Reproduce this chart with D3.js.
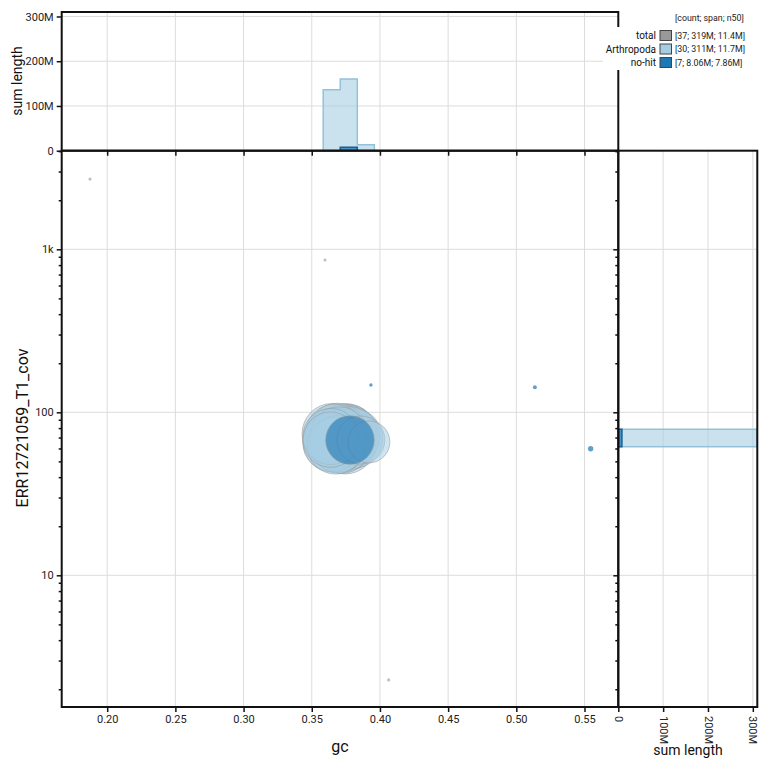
<!DOCTYPE html>
<html>
<head>
<meta charset="utf-8">
<script src="https://cdn.jsdelivr.net/npm/d3@7"></script>
<style>
    body { margin: 0; background: #fff; font-family: Roboto, sans-serif; }
</style>
</head>
<body>
<div id="blob-plot"></div>
<script>

// categories & colours
const categories     = ["Arthropoda", "no-hit"];
const categoryColors = ["#a6cee3", "#1f78b4"];

// sequences (gc, coverage, length) per category
const arthropodaGc  = [0.3650, 0.3675, 0.3665, 0.3638, 0.3690, 0.3660, 0.3700, 0.3640, 0.3680, 0.3648, 0.3695, 0.3670,
                       0.3720, 0.3735, 0.3750, 0.3715, 0.3765, 0.3730, 0.3745, 0.3780, 0.3725, 0.3760, 0.3740, 0.3800, 0.3755,
                       0.3919, 0.3860,
                       0.1874, 0.3597, 0.4064];
const arthropodaCov = [74, 62.5, 70, 68, 74.5, 66, 72, 71, 69, 65, 64, 74,
                       70, 66, 73, 64, 68, 73.5, 64.5, 71, 69, 73, 67, 69, 71.5,
                       65.8, 67.6,
                       2698, 860, 2.28];
const arthropodaLen = [12.1e6, 10.8e6, 11.6e6, 10.2e6, 11.9e6, 12.4e6, 11.0e6, 10.5e6, 11.8e6, 11.3e6, 10.9e6, 11.5e6,
                       12.6e6, 12.0e6, 12.8e6, 11.7e6, 12.3e6, 12.1e6, 12.5e6, 11.9e6, 12.9e6, 12.2e6, 12.4e6, 12.0e6, 12.6e6,
                       5.87e6, 7.67e6,
                       30e3, 30e3, 30e3];

const noHitGc  = [0.3780, 0.5545, 0.5136, 0.3934, 0.3760, 0.3795, 0.3775];
const noHitCov = [67.6, 59.8, 142.3, 147, 69, 66, 70.5];
const noHitLen = [7.86e6, 97e3, 53e3, 38e3, 4e3, 4e3, 4e3];

// histograms (sum length per bin)
const gcBinEdges        = [0.3584, 0.3709, 0.3834, 0.3959];
const gcHistArthropoda  = [136e6, 160e6, 13.5e6];
const gcHistNoHit       = [0, 7.86e6, 0];
const covBinEdges       = [61.5, 78.7];
const covHistArthropoda = [309e6];
const covHistNoHit      = [8.06e6];

// ticks
const gcTicks       = [0.20, 0.25, 0.30, 0.35, 0.40, 0.45, 0.50, 0.55];
const covTicks      = [10, 100, 1000];
const covTickLabels = ["10", "100", "1k"];
const lenTicks      = [0, 100e6, 200e6, 300e6];
const lenTickLabels = ["0", "100M", "200M", "300M"];

// legend
const legendLabels = ["total", "Arthropoda", "no-hit"];
const legendColors = ["#999999", "#a6cee3", "#1f78b4"];
const legendCounts = [37, 30, 7];
const legendSpans  = ["319M", "311M", "8.06M"];
const legendN50s   = ["11.4M", "11.7M", "7.86M"];


class BlobPlot {
    constructor(_parentElement) {
        this.parentElement = _parentElement;

        this.initVis();
    }

    initVis() {
        let vis = this;

        vis.main = { left: 61.7, right: 618.3, top: 150.7, bottom: 707 };
        vis.topPanelTop = 12;
        vis.sidePanelRight = 757.3;

        vis.svg = d3.select("#" + vis.parentElement).append("svg")
            .attr("width", 770)
            .attr("height", 770);

        vis.x = d3.scaleLinear().domain([0.16664, 0.57478]).range([vis.main.left, vis.main.right]);
        vis.y = d3.scaleLog().domain([1.556, 4027]).range([vis.main.bottom, vis.main.top]);
        vis.histY = d3.scaleLinear().domain([0, 310e6]).range([vis.main.top, vis.topPanelTop]);
        vis.histX = d3.scaleLinear().domain([0, 310e6]).range([vis.main.right, vis.sidePanelRight]);
        vis.r = d3.scaleSqrt().domain([0, 1e6]).range([0, 8.667]);
        vis.color = d3.scaleOrdinal().domain(categories).range(categoryColors);

        // clip paths
        let defs = vis.svg.append("defs");
        defs.append("clipPath").attr("id", "clip-main").append("rect")
            .attr("x", vis.main.left).attr("y", vis.main.top)
            .attr("width", vis.main.right - vis.main.left).attr("height", vis.main.bottom - vis.main.top);
        defs.append("clipPath").attr("id", "clip-top").append("rect")
            .attr("x", vis.main.left).attr("y", vis.topPanelTop)
            .attr("width", vis.main.right - vis.main.left).attr("height", vis.main.top - vis.topPanelTop);
        defs.append("clipPath").attr("id", "clip-side").append("rect")
            .attr("x", vis.main.right).attr("y", vis.main.top)
            .attr("width", vis.sidePanelRight - vis.main.right).attr("height", vis.main.bottom - vis.main.top);

        vis.gridGroup = vis.svg.append("g").attr("class", "grid");
        vis.topGroup  = vis.svg.append("g").attr("clip-path", "url(#clip-top)");
        vis.sideGroup = vis.svg.append("g").attr("clip-path", "url(#clip-side)");
        vis.mainGroup = vis.svg.append("g").attr("clip-path", "url(#clip-main)");
        vis.frameGroup = vis.svg.append("g");
        vis.axisGroup = vis.svg.append("g");
        vis.labelGroup = vis.svg.append("g");
        vis.legendGroup = vis.svg.append("g");

        vis.wrangleData();
    }

    wrangleData() {
        let vis = this;

        let arth = arthropodaGc.map((g, i) => ({ gc: g, cov: arthropodaCov[i], len: arthropodaLen[i], cat: "Arthropoda" }));
        let noHit = noHitGc.map((g, i) => ({ gc: g, cov: noHitCov[i], len: noHitLen[i], cat: "no-hit" }));

        // biggest first inside each category, no-hit drawn over Arthropoda
        // (the tiny no-hit fragments inside the cluster end up underneath)
        arth.sort((a, b) => b.len - a.len);
        noHit.sort((a, b) => b.len - a.len);
        let tiny = noHit.filter(d => d.len < 20e3);
        vis.points = tiny.concat(arth, noHit.filter(d => d.len >= 20e3));

        vis.gcHists = [
            { cat: "Arthropoda", values: gcHistArthropoda },
            { cat: "no-hit", values: gcHistNoHit }
        ];
        vis.covHists = [
            { cat: "Arthropoda", values: covHistArthropoda },
            { cat: "no-hit", values: covHistNoHit }
        ];

        vis.updateVis();
    }

    updateVis() {
        let vis = this;
        const gridColor = "#dcdcdc";

        // grid lines
        vis.gridGroup.selectAll(".grid-x")
            .data(gcTicks)
            .join("line")
            .attr("class", "grid-x")
            .attr("x1", d => vis.x(d)).attr("x2", d => vis.x(d))
            .attr("y1", vis.topPanelTop).attr("y2", vis.main.bottom)
            .attr("stroke", gridColor).attr("stroke-width", 1);

        vis.gridGroup.selectAll(".grid-y")
            .data(covTicks)
            .join("line")
            .attr("class", "grid-y")
            .attr("x1", vis.main.left).attr("x2", vis.sidePanelRight)
            .attr("y1", d => vis.y(d)).attr("y2", d => vis.y(d))
            .attr("stroke", gridColor).attr("stroke-width", 1);

        vis.gridGroup.selectAll(".grid-hist-y")
            .data(lenTicks.slice(1))
            .join("line")
            .attr("class", "grid-hist-y")
            .attr("x1", vis.main.left).attr("x2", vis.main.right)
            .attr("y1", d => vis.histY(d)).attr("y2", d => vis.histY(d))
            .attr("stroke", gridColor).attr("stroke-width", 1);

        vis.gridGroup.selectAll(".grid-hist-x")
            .data(lenTicks.slice(1))
            .join("line")
            .attr("class", "grid-hist-x")
            .attr("x1", d => vis.histX(d)).attr("x2", d => vis.histX(d))
            .attr("y1", vis.main.top).attr("y2", vis.main.bottom)
            .attr("stroke", gridColor).attr("stroke-width", 1);

        // top histogram (gc)
        let area = d3.area()
            .x(d => vis.x(d.edge))
            .y0(vis.histY(0))
            .y1(d => vis.histY(d.value))
            .curve(d3.curveStepAfter);

        vis.topGroup.selectAll(".gc-hist")
            .data(vis.gcHists)
            .join("path")
            .attr("class", "gc-hist")
            .attr("d", h => {
                let pts = h.values.map((v, i) => ({ edge: gcBinEdges[i], value: v }));
                pts.push({ edge: gcBinEdges[gcBinEdges.length - 1], value: h.values[h.values.length - 1] });
                return area(pts);
            })
            .attr("fill", h => vis.color(h.cat))
            .attr("fill-opacity", h => h.cat === "no-hit" ? 0.75 : 0.6)
            .attr("stroke", h => h.cat === "no-hit" ? "#1a5f91" : "#93c1da")
            .attr("stroke-width", 1.5);

        // side histogram (coverage)
        vis.sideGroup.selectAll(".cov-hist")
            .data(vis.covHists)
            .join("rect")
            .attr("class", "cov-hist")
            .attr("x", vis.histX(0))
            .attr("y", vis.y(covBinEdges[1]))
            .attr("width", h => vis.histX(h.values[0]) - vis.histX(0))
            .attr("height", vis.y(covBinEdges[0]) - vis.y(covBinEdges[1]))
            .attr("fill", h => vis.color(h.cat))
            .attr("fill-opacity", h => h.cat === "no-hit" ? 0.75 : 0.6)
            .attr("stroke", h => h.cat === "no-hit" ? "#1a5f91" : "#93c1da")
            .attr("stroke-width", 1.5);

        // blobs
        vis.mainGroup.selectAll(".blob")
            .data(vis.points)
            .join("circle")
            .attr("class", "blob")
            .attr("cx", d => vis.x(d.gc))
            .attr("cy", d => vis.y(d.cov))
            .attr("r", d => Math.max(1.6, vis.r(d.len)))
            .attr("fill", d => d.len < 1e6 && d.cat === "Arthropoda" ? "#8fa9bd" : vis.color(d.cat))
            .attr("fill-opacity", d => d.len < 1e6 ? 0.7 : (d.cat === "no-hit" ? 0.62 : 0.55))
            .attr("stroke", "#999")
            .attr("stroke-opacity", d => d.len < 1e6 ? 0 : 0.55)
            .attr("stroke-width", 1);

        // panel frames
        let frames = [
            { x: vis.main.left, y: vis.main.top, w: vis.main.right - vis.main.left, h: vis.main.bottom - vis.main.top },
            { x: vis.main.left, y: vis.topPanelTop, w: vis.main.right - vis.main.left, h: vis.main.top - vis.topPanelTop },
            { x: vis.main.right, y: vis.main.top, w: vis.sidePanelRight - vis.main.right, h: vis.main.bottom - vis.main.top }
        ];
        vis.frameGroup.selectAll("rect")
            .data(frames)
            .join("rect")
            .attr("x", d => d.x).attr("y", d => d.y)
            .attr("width", d => d.w).attr("height", d => d.h)
            .attr("fill", "none")
            .attr("stroke", "#111")
            .attr("stroke-width", 2);

        // axes
        let covAllTicks = vis.y.ticks();
        let isMajor = d => Math.abs(Math.log10(d) - Math.round(Math.log10(d))) < 1e-9;
        let covLabel = d => {
            let i = covTicks.indexOf(d);
            return i >= 0 ? covTickLabels[i] : "";
        };
        let lenLabel = d => lenTickLabels[lenTicks.indexOf(d)];

        const styleAxis = (g) => {
            g.select(".domain").remove();
            g.attr("font-family", "Roboto, sans-serif").attr("font-size", 11);
            g.selectAll(".tick line").attr("stroke", "#111").attr("stroke-width", 1.5);
            g.selectAll(".tick text").attr("fill", "#222");
        };

        vis.axisGroup.append("g")
            .attr("transform", `translate(0, ${vis.main.bottom})`)
            .call(d3.axisBottom(vis.x).tickValues(gcTicks).tickFormat(d3.format(".2f")).tickSize(5).tickSizeOuter(0))
            .call(styleAxis);

        vis.axisGroup.append("g")
            .attr("transform", `translate(0, ${vis.main.top})`)
            .call(d3.axisBottom(vis.x).tickValues(gcTicks).tickFormat("").tickSize(5).tickSizeOuter(0))
            .call(styleAxis);

        vis.axisGroup.append("g")
            .attr("transform", `translate(${vis.main.left}, 0)`)
            .call(d3.axisLeft(vis.y).tickValues(covAllTicks).tickFormat(covLabel).tickSize(5).tickSizeOuter(0))
            .call(styleAxis)
            .selectAll(".tick line")
            .attr("x2", d => isMajor(d) ? -5 : -3);

        vis.axisGroup.append("g")
            .attr("transform", `translate(${vis.main.right}, 0)`)
            .call(d3.axisLeft(vis.y).tickValues(covAllTicks).tickFormat("").tickSize(5).tickSizeOuter(0))
            .call(styleAxis)
            .selectAll(".tick line")
            .attr("x2", d => isMajor(d) ? -5 : -3);

        vis.axisGroup.append("g")
            .attr("transform", `translate(${vis.main.left}, 0)`)
            .call(d3.axisLeft(vis.histY).tickValues(lenTicks).tickFormat(lenLabel).tickSize(5).tickSizeOuter(0))
            .call(styleAxis);

        vis.axisGroup.append("g")
            .attr("transform", `translate(0, ${vis.main.bottom})`)
            .call(d3.axisBottom(vis.histX).tickValues(lenTicks).tickFormat(lenLabel).tickSize(5).tickSizeOuter(0))
            .call(styleAxis)
            .selectAll(".tick text")
            .attr("transform", "rotate(90)")
            .attr("x", 9)
            .attr("y", 0)
            .attr("dy", "0.35em")
            .style("text-anchor", "start");

        // axis titles
        vis.labelGroup.append("text")
            .attr("x", 340).attr("y", 752)
            .attr("text-anchor", "middle")
            .attr("font-size", 16).attr("fill", "#111")
            .text("gc");

        vis.labelGroup.append("text")
            .attr("transform", "translate(28, 428) rotate(-90)")
            .attr("text-anchor", "middle")
            .attr("font-size", 16).attr("fill", "#111")
            .text("ERR12721059_T1_cov");

        vis.labelGroup.append("text")
            .attr("transform", "translate(22, 81) rotate(-90)")
            .attr("text-anchor", "middle")
            .attr("font-size", 14).attr("fill", "#111")
            .text("sum length");

        vis.labelGroup.append("text")
            .attr("x", 688).attr("y", 755)
            .attr("text-anchor", "middle")
            .attr("font-size", 14).attr("fill", "#111")
            .text("sum length");

        // legend
        vis.legendGroup.append("rect")
            .attr("x", 603).attr("y", 27)
            .attr("width", 157).attr("height", 43)
            .attr("fill", "#fff");

        vis.legendGroup.append("text")
            .attr("x", 675).attr("y", 21)
            .attr("font-size", 8.8).attr("fill", "#222")
            .text("[count; span; n50]");

        let rows = vis.legendGroup.selectAll(".legend-row")
            .data(legendLabels)
            .join("g")
            .attr("class", "legend-row")
            .attr("transform", (d, i) => `translate(0, ${35.5 + i * 13.5})`);

        rows.append("rect")
            .attr("x", 660).attr("y", -5)
            .attr("width", 11.5).attr("height", 10)
            .attr("fill", (d, i) => legendColors[i])
            .attr("stroke", "#444")
            .attr("stroke-width", 1);

        rows.append("text")
            .attr("x", 656).attr("y", 3.5)
            .attr("text-anchor", "end")
            .attr("font-size", 10).attr("fill", "#111")
            .text(d => d);

        rows.append("text")
            .attr("x", 675).attr("y", 3.2)
            .attr("font-size", 8.8).attr("fill", "#222")
            .text((d, i) => `[${legendCounts[i]}; ${legendSpans[i]}; ${legendN50s[i]}]`);
    }
}

new BlobPlot("blob-plot");

</script>
</body>
</html>
